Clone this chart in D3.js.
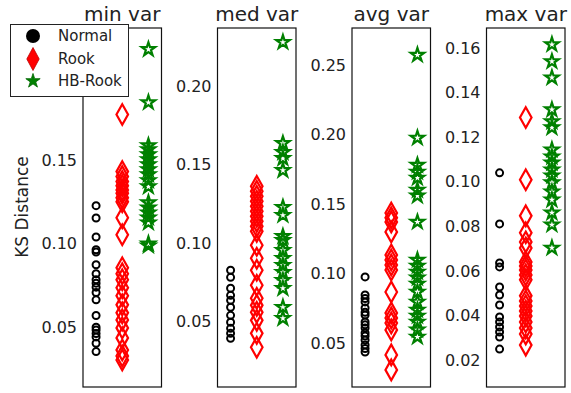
<!DOCTYPE html>
<html lang="en">
<head>
    <meta charset="UTF-8">
    <title>KS Distance</title>
    <script src="https://cdn.jsdelivr.net/npm/d3@7"></script>
    <style>
        body{ margin:0; background:#fff; }
        text{ font-family: "DejaVu Sans", sans-serif; fill:#222; }
        .tick text{ font-size:16px; }
        .title{ font-size:20px; }
        .ylabel{ font-size:17px; }
        .legendText{ font-size:15px; }
    </style>
</head>
<body>
<script>
    // panel titles and series names
    const titles = ["min var", "med var", "avg var", "max var"];
    const seriesNames = ["Normal", "Rook", "HB-Rook"];

    // y limits and tick values per panel (0.20 of the first panel sits under the legend)
    const yLimits = [[0.014, 0.229], [0.008, 0.2375], [0.0183, 0.2766], [0.0079, 0.169]];
    const yTicks = [
        [0.05, 0.10, 0.15],
        [0.05, 0.10, 0.15, 0.20],
        [0.05, 0.10, 0.15, 0.20, 0.25],
        [0.02, 0.04, 0.06, 0.08, 0.10, 0.12, 0.14, 0.16]
    ];

    // min var
    const minNormal = [0.1226, 0.1152, 0.1038, 0.0962, 0.0948, 0.0872, 0.0818, 0.0782, 0.0762, 0.0738,
        0.0706, 0.0662, 0.0568, 0.0498, 0.0482, 0.046, 0.044, 0.0402, 0.0352];
    const minRook = [0.1772, 0.143, 0.140, 0.137, 0.1346, 0.132, 0.130, 0.1274, 0.125, 0.1154, 0.1052,
        0.0854, 0.0818, 0.0782, 0.0734, 0.0686, 0.0632, 0.0584, 0.0542, 0.0494, 0.0434, 0.0362, 0.0326, 0.0302];
    const minHB = [0.2162, 0.1844, 0.1586, 0.1562, 0.1532, 0.1502, 0.1472, 0.1442, 0.1412, 0.1376, 0.134,
        0.1244, 0.1214, 0.1184, 0.1154, 0.1124, 0.0998, 0.0986];

    // med var
    const medNormal = [0.0826, 0.0781, 0.0711, 0.0666, 0.0634, 0.059, 0.0538, 0.0494, 0.0455, 0.0423, 0.0391];
    const medRook = [0.1363, 0.1331, 0.1299, 0.1267, 0.1235, 0.1203, 0.1171, 0.1139, 0.1107, 0.1075,
        0.0986, 0.0903, 0.0826, 0.073, 0.0647, 0.0602, 0.0558, 0.0506, 0.0423, 0.0334];
    const medHB = [0.2284, 0.1638, 0.158, 0.1542, 0.1465, 0.1229, 0.1178, 0.1043, 0.1018, 0.0954,
        0.0903, 0.0858, 0.0813, 0.0762, 0.0711, 0.059, 0.0519];

    // avg var
    const avgNormal = [0.0975, 0.0845, 0.082, 0.0795, 0.0752, 0.072, 0.0701, 0.0651, 0.063, 0.0608,
        0.0572, 0.055, 0.0522, 0.0486, 0.046, 0.0435];
    const avgRook = [0.1435, 0.14, 0.1371, 0.1299, 0.1133, 0.1097, 0.1061, 0.1025, 0.0867, 0.0716,
        0.068, 0.0644, 0.0594, 0.0414, 0.0306];
    const avgHB = [0.2572, 0.1975, 0.178, 0.173, 0.1687, 0.16, 0.1558, 0.137, 0.1097, 0.1054, 0.1011,
        0.0968, 0.0924, 0.0867, 0.0795, 0.0737, 0.0694, 0.0651, 0.0594, 0.0543];

    // max var
    const maxNormal = [0.104, 0.0811, 0.0636, 0.0618, 0.0528, 0.0492, 0.0447, 0.0393, 0.0371, 0.0348,
        0.0326, 0.0303, 0.0249];
    const maxRook = [0.1288, 0.1009, 0.0847, 0.0771, 0.073, 0.0703, 0.064, 0.0622, 0.0604, 0.0582, 0.056,
        0.0488, 0.0465, 0.0443, 0.042, 0.0398, 0.0371, 0.0344, 0.0317, 0.0267];
    const maxHB = [0.1616, 0.154, 0.1467, 0.1324, 0.127, 0.1243, 0.1144, 0.1112, 0.1085, 0.1054, 0.1027,
        0.0996, 0.0955, 0.0919, 0.0861, 0.0807, 0.0703];

    const panelData = [
        [minNormal, minRook, minHB],
        [medNormal, medRook, medHB],
        [avgNormal, avgRook, avgHB],
        [maxNormal, maxRook, maxHB]
    ];

    const colors = ["black", "red", "green"];
    const diamondPath = "M0,-10.3L5.8,0L0,10.3L-5.8,0Z";
    const starPath = d3.symbol(d3.symbolStar, 56)();

    const svg = d3.select("body").append("svg")
        .attr("width", 571).attr("height", 393);

    const plotTop = 28, plotBottom = 387, boxW = 78.5;

    panelData.forEach((series, i) => {
        const left = 83 + i * 134.5;
        const x = d3.scaleLinear().domain([0.5, 3.5]).range([left, left + boxW]);
        const y = d3.scaleLinear().domain(yLimits[i]).range([plotBottom, plotTop]);

        const g = svg.append("g");

        // y axis labels
        const ax = g.append("g")
            .attr("transform", `translate(${left},0)`)
            .call(d3.axisLeft(y).tickValues(yTicks[i]).tickFormat(d3.format(".2f")).tickSize(0).tickPadding(6));
        ax.select(".domain").remove();
        ax.selectAll(".tick text").attr("fill", "#222").attr("font-family", null).attr("font-size", null);

        // markers: normal circles, rook diamonds, hb stars
        series.forEach((vals, s) => {
            const pts = g.selectAll(null).data(vals).enter();
            if (s === 0) {
                pts.append("circle")
                    .attr("cx", x(1)).attr("cy", d => y(d)).attr("r", 3.5)
                    .attr("fill", "none").attr("stroke", colors[s]).attr("stroke-width", 2);
            } else {
                pts.append("path")
                    .attr("d", s === 1 ? diamondPath : starPath)
                    .attr("transform", d => `translate(${x(s + 1)},${y(d)})`)
                    .attr("fill", "none").attr("stroke", colors[s]).attr("stroke-width", 2.2)
                    .attr("stroke-linejoin", "miter");
            }
        });

        // box
        g.append("rect")
            .attr("x", left).attr("y", plotTop).attr("width", boxW).attr("height", plotBottom - plotTop)
            .attr("fill", "none").attr("stroke", "#111").attr("stroke-width", 1.2);

        g.append("text")
            .attr("class", "title")
            .attr("x", left + boxW / 2).attr("y", 21)
            .attr("text-anchor", "middle")
            .text(titles[i]);
    });

    svg.append("text")
        .attr("class", "ylabel")
        .attr("transform", "translate(28,207) rotate(-90)")
        .attr("text-anchor", "middle")
        .text("KS Distance");

    // legend drawn over the first panel
    const legend = svg.append("g");
    legend.append("rect")
        .attr("x", 10.5).attr("y", 24.5).attr("width", 118).attr("height", 72)
        .attr("fill", "white").attr("stroke", "#222").attr("stroke-width", 1);
    const legendY = [36, 59, 81];
    seriesNames.forEach((name, s) => {
        const cy = legendY[s];
        if (s === 0) {
            legend.append("circle").attr("cx", 33).attr("cy", cy).attr("r", 7).attr("fill", "black");
        } else if (s === 1) {
            legend.append("path").attr("d", "M0,-11.5L6.2,0L0,11.5L-6.2,0Z")
                .attr("transform", `translate(33,${cy})`)
                .attr("fill", "red").attr("stroke", "#b00").attr("stroke-width", 0.8);
        } else {
            legend.append("path").attr("d", d3.symbol(d3.symbolStar, 64)())
                .attr("transform", `translate(33,${cy})`)
                .attr("fill", "green").attr("stroke", "#060").attr("stroke-width", 0.8);
        }
        legend.append("text")
            .attr("class", "legendText")
            .attr("x", 58).attr("y", cy).attr("dy", "0.35em")
            .text(name);
    });
</script>
</body>
</html>
